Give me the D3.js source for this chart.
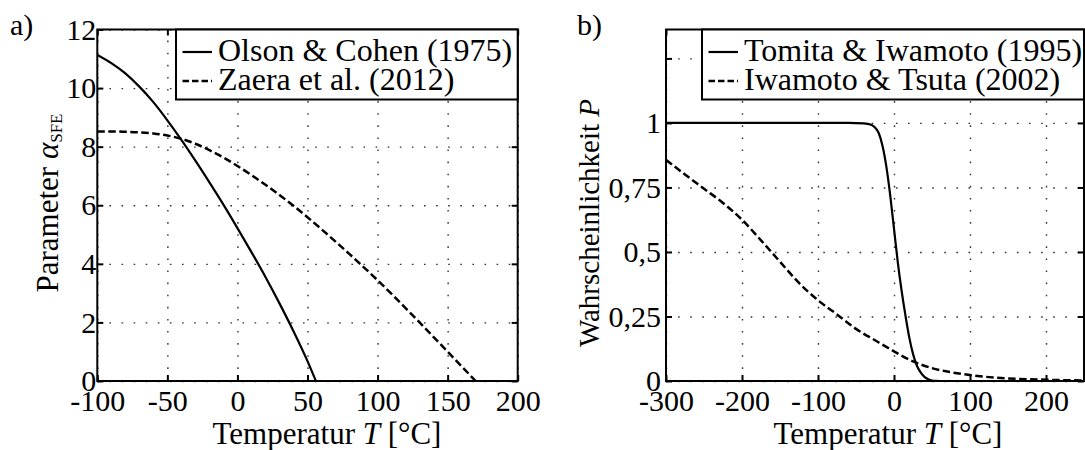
<!DOCTYPE html>
<html>
<head>
<meta charset="utf-8">
<script src="https://cdn.jsdelivr.net/npm/d3@7"></script>
<style>
body { margin: 0; background: #fff; }
text { font-family: "Liberation Serif", "Times New Roman", serif; fill: #000; }
</style>
</head>
<body>
<svg id="chart" width="1085" height="450"></svg>
<script>
var FONT = '"Liberation Serif", "Times New Roman", serif';

// ---- panel a) : Parameter alpha_SFE ----
var olsonT = [-100, -90, -80, -70, -60, -50, -40, -30, -20, -10, 0, 10, 20, 30, 40, 50, 56];
var olsonA = [11.13, 10.85, 10.5, 10.05, 9.52, 8.9, 8.23, 7.52, 6.78, 6.02, 5.22, 4.4, 3.55, 2.65, 1.7, 0.68, 0];
var zaeraT = [-100, -90, -80, -70, -60, -50, -40, -30, -20, -10, 0, 10, 20, 30, 40, 50, 60, 70, 80, 90, 100, 110, 120, 130, 140, 150, 160, 170];
var zaeraA = [8.52, 8.52, 8.51, 8.49, 8.45, 8.38, 8.27, 8.1, 7.88, 7.63, 7.34, 7.03, 6.7, 6.35, 5.98, 5.59, 5.18, 4.76, 4.33, 3.89, 3.44, 2.97, 2.49, 2.0, 1.5, 1.0, 0.5, 0];
var xTicksA = [-100, -50, 0, 50, 100, 150, 200];
var yTicksA = [0, 2, 4, 6, 8, 10, 12];
var legendA = ["Olson & Cohen (1975)", "Zaera et al. (2012)"];

// ---- panel b) : Wahrscheinlichkeit P ----
var tomitaT = [-300, -60, -40, -30, -25, -20, -15, -10, -5, 0, 5, 10, 15, 20, 25, 30, 35, 40, 45, 50, 55, 60, 250];
var tomitaP = [1, 1, 0.998, 0.993, 0.982, 0.96, 0.91, 0.83, 0.72, 0.59, 0.46, 0.35, 0.255, 0.17, 0.105, 0.06, 0.033, 0.016, 0.007, 0.002, 0.0005, 0, 0];
var iwamotoT = [-300, -275, -250, -225, -200, -175, -150, -125, -100, -75, -50, -25, 0, 25, 50, 75, 100, 125, 150, 175, 200, 225, 250];
var iwamotoP = [0.857, 0.8, 0.745, 0.69, 0.625, 0.545, 0.462, 0.38, 0.313, 0.258, 0.202, 0.158, 0.115, 0.076, 0.05, 0.034, 0.023, 0.015, 0.01, 0.007, 0.005, 0.003, 0.002];
var xTicksB = [-300, -200, -100, 0, 100, 200];
var yTicksB = [0, 0.25, 0.5, 0.75, 1, 1.25];
var yLabelsB = ["0", "0,25", "0,5", "0,75", "1", ""];
var legendB = ["Tomita & Iwamoto (1995)", "Iwamoto & Tsuta (2002)"];

var svg = d3.select("#chart");

function zip(xs, ys) {
    return xs.map(function (x, i) { return {x: x, y: ys[i]}; });
}

function drawPanel(p) {
    var x = d3.scaleLinear().domain(p.xDomain).range([p.left, p.right]);
    var y = d3.scaleLinear().domain(p.yDomain).range([p.bottom, p.top]);
    var g = svg.append("g");

    g.append("clipPath").attr("id", p.id + "clip")
        .append("rect")
        .attr("x", p.left).attr("y", p.top)
        .attr("width", p.right - p.left).attr("height", p.bottom - p.top);

    // dotted grid
    var grid = g.append("g").attr("class", "grid");
    grid.append("g").attr("transform", "translate(0," + p.bottom + ")")
        .call(d3.axisBottom(x).tickValues(p.xTicks).tickSize(-(p.bottom - p.top)).tickFormat(""));
    grid.append("g").attr("transform", "translate(" + p.left + ",0)")
        .call(d3.axisLeft(y).tickValues(p.yTicks).tickSize(-(p.right - p.left)).tickFormat(""));
    grid.selectAll(".domain").remove();
    grid.selectAll("line")
        .attr("stroke", "#333")
        .attr("stroke-width", 1.4)
        .attr("stroke-dasharray", "1.6,10.5");

    // curves
    var line = d3.line()
        .x(function (d) { return x(d.x); })
        .y(function (d) { return y(d.y); })
        .curve(d3.curveMonotoneX);
    p.series.forEach(function (s) {
        g.append("path")
            .datum(s.data)
            .attr("clip-path", "url(#" + p.id + "clip)")
            .attr("fill", "none")
            .attr("stroke", "#000")
            .attr("stroke-width", s.dash ? 2.5 : 2.2)
            .attr("stroke-dasharray", s.dash ? "7.5,3.5" : null)
            .attr("d", line);
    });

    // frame
    g.append("rect")
        .attr("x", p.left).attr("y", p.top)
        .attr("width", p.right - p.left).attr("height", p.bottom - p.top)
        .attr("fill", "none").attr("stroke", "#000").attr("stroke-width", 2);

    // inward ticks on all four sides, labels bottom/left
    var ax = g.append("g").attr("class", "axes");
    ax.append("g").attr("transform", "translate(0," + p.bottom + ")")
        .call(d3.axisBottom(x).tickValues(p.xTicks).tickSizeInner(-6).tickSizeOuter(0).tickPadding(9)
            .tickFormat(function (d) { return String(d); }));
    ax.append("g").attr("transform", "translate(0," + p.top + ")")
        .call(d3.axisTop(x).tickValues(p.xTicks).tickSizeInner(-6).tickSizeOuter(0).tickFormat(""));
    ax.append("g").attr("transform", "translate(" + p.left + ",0)")
        .call(d3.axisLeft(y).tickValues(p.yTicks).tickSizeInner(-6).tickSizeOuter(0).tickPadding(p.yPad)
            .tickFormat(function (d, i) { return p.yLabels[i]; }));
    ax.append("g").attr("transform", "translate(" + p.right + ",0)")
        .call(d3.axisRight(y).tickValues(p.yTicks).tickSizeInner(-6).tickSizeOuter(0).tickFormat(""));
    ax.selectAll(".domain").remove();
    ax.selectAll("line").attr("stroke", "#000").attr("stroke-width", 2);
    ax.selectAll("g").attr("font-family", FONT).attr("font-size", 30);
    ax.selectAll("text")
        .style("font-family", FONT)
        .style("font-size", "30px")
        .attr("fill", "#000");

    // legend
    var lg = g.append("g");
    lg.append("rect")
        .attr("x", p.legendX).attr("y", p.top)
        .attr("width", p.right - p.legendX).attr("height", 70)
        .attr("fill", "#fff").attr("stroke", "#000").attr("stroke-width", 2);
    p.series.forEach(function (s, i) {
        var ly = p.top + 22.5 + i * 29;
        lg.append("line")
            .attr("x1", p.legendX + 6.5).attr("x2", p.legendX + 36)
            .attr("y1", ly).attr("y2", ly)
            .attr("stroke", "#000").attr("stroke-width", s.dash ? 2.5 : 2.2)
            .attr("stroke-dasharray", s.dash ? "6.5,3" : null);
        lg.append("text")
            .attr("x", p.legendX + 42)
            .attr("y", ly + 9)
            .style("font-family", FONT)
            .style("font-size", "32px")
            .text(p.legend[i]);
    });

    // x label
    var xl = g.append("text")
        .attr("x", p.xLabelX).attr("y", 444)
        .attr("text-anchor", "middle")
        .style("font-family", FONT)
        .style("font-size", "31px");
    xl.append("tspan").text("Temperatur ");
    xl.append("tspan").style("font-style", "italic").text("T");
    xl.append("tspan").text(" [°C]");

    // panel letter
    g.append("text").attr("x", p.letterX).attr("y", 35)
        .style("font-family", FONT).style("font-size", "30px").text(p.letter);
    return g;
}

var gA = drawPanel({
    id: "a", letter: "a)", letterX: 10,
    left: 97.3, right: 517.7, top: 29.5, bottom: 381,
    xDomain: [-100, 200], yDomain: [0, 12],
    xTicks: xTicksA, yTicks: yTicksA, yLabels: yTicksA.map(String), yPad: 1,
    series: [{data: zip(olsonT, olsonA), dash: false}, {data: zip(zaeraT, zaeraA), dash: true}],
    legend: legendA, legendX: 176,
    xLabelX: 327
});
var ylA = gA.append("text")
    .attr("transform", "translate(58,203) rotate(-90)")
    .attr("text-anchor", "middle")
    .style("font-family", FONT)
    .style("font-size", "31px");
ylA.append("tspan").text("Parameter ");
ylA.append("tspan").style("font-style", "italic").text("α");
ylA.append("tspan").attr("dy", 4).style("font-size", "17px").text("SFE");

var gB = drawPanel({
    id: "b", letter: "b)", letterX: 577,
    left: 666, right: 1084, top: 29.5, bottom: 381,
    xDomain: [-300, 250], yDomain: [0, 1.362],
    xTicks: xTicksB, yTicks: yTicksB, yLabels: yLabelsB, yPad: 5,
    series: [{data: zip(tomitaT, tomitaP), dash: false}, {data: zip(iwamotoT, iwamotoP), dash: true}],
    legend: legendB, legendX: 702,
    xLabelX: 888
});
var ylB = gB.append("text")
    .attr("transform", "translate(599,223) rotate(-90)")
    .attr("text-anchor", "middle")
    .style("font-family", FONT)
    .style("font-size", "29px");
ylB.append("tspan").text("Wahrscheinlichkeit ");
ylB.append("tspan").style("font-style", "italic").text("P");
</script>
</body>
</html>
